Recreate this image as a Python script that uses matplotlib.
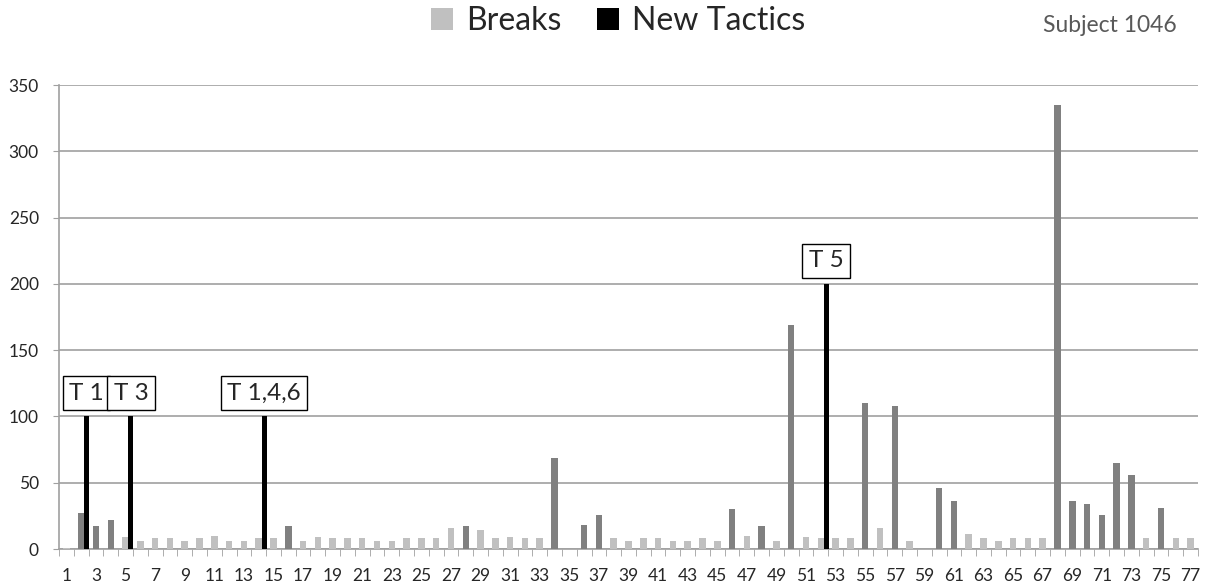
"""
Breaks and new tactics per session, subject 1046
"""
import matplotlib
matplotlib.use("Agg")
import matplotlib.pyplot as plt
from matplotlib.patches import Patch
import numpy as np

COLOR_LIGHT  = "#c0c0c0"
COLOR_DARK   = "#808080"
COLOR_TACTIC = "#000000"
COLOR_GRID   = "#a0a0a0"
COLOR_TEXT   = "#262626"

sessions = list(range(1, 78))
breaks = [1, 27, 17, 22, 9, 6, 8, 8, 6, 8,
          10, 6, 6, 8, 8, 17, 6, 9, 8, 8,
          8, 6, 6, 8, 8, 8, 16, 17, 14, 8,
          9, 8, 8, 69, 0, 18, 26, 8, 6, 8,
          8, 6, 6, 8, 6, 30, 10, 17, 6, 169,
          9, 8, 8, 8, 110, 16, 108, 6, 0, 46,
          36, 11, 8, 6, 8, 8, 8, 335, 36, 34,
          26, 65, 56, 8, 31, 8, 8]
# sessions whose break is drawn in the darker gray
long_breaks = [2, 3, 4, 16, 28, 34, 36, 37, 46, 48, 50, 55, 57,
               60, 61, 68, 69, 70, 71, 72, 73, 75]

tactic_sessions = [2, 5, 14, 52]
tactic_values   = [100, 100, 100, 200]
tactic_labels   = ["T 1", "T 3", "T 1,4,6", "T 5"]

plt.rcParams["font.family"] = ["Lato", "DejaVu Sans"]

W, H = 1207, 587
fig = plt.figure(figsize=(W / 100, H / 100), dpi=100)
ax = fig.add_axes([59 / W, 38 / H, 1139 / W, 464 / H])

x = np.array(sessions)
colors = [COLOR_DARK if s in long_breaks else COLOR_LIGHT for s in sessions]
ax.bar(x, breaks, width=0.44, color=colors, zorder=3)

tx = np.array(tactic_sessions) + 0.36
ax.bar(tx, tactic_values, width=0.34, color=COLOR_TACTIC, zorder=4)
for xi, v, lab in zip(tx, tactic_values, tactic_labels):
    ax.annotate(lab, xy=(xi, v), xytext=(0, 9), textcoords="offset points",
                ha="center", va="bottom", fontsize=17.5, color=COLOR_TEXT,
                bbox=dict(boxstyle="square,pad=0.27", fc="white", ec="black", lw=1),
                zorder=5)

ax.set_xlim(0.5, 77.5)
ax.set_ylim(0, 350)
ax.set_yticks(range(0, 351, 50))
ax.set_xticks(x[::2])
ax.set_xticks(np.arange(0.5, 78, 1), minor=True)

ax.yaxis.grid(True, color=COLOR_GRID, linewidth=1.2)
ax.set_axisbelow(True)
for sp in ["top", "right"]:
    ax.spines[sp].set_visible(False)
for sp in ["left", "bottom"]:
    ax.spines[sp].set_color(COLOR_GRID)
    ax.spines[sp].set_linewidth(1.2)

ax.tick_params(axis="y", length=4.5, color=COLOR_GRID, pad=10,
               labelsize=12.5, labelcolor=COLOR_TEXT)
ax.tick_params(axis="x", which="major", length=0, pad=14,
               labelsize=12.5, labelcolor=COLOR_TEXT)
ax.tick_params(axis="x", which="minor", length=5, color=COLOR_GRID)

handles = [Patch(fc=COLOR_LIGHT), Patch(fc=COLOR_TACTIC)]
fig.legend(handles, ["Breaks", "New Tactics"], loc="center",
           bbox_to_anchor=(618 / W, 1 - 21 / H), ncol=2, frameon=False,
           fontsize=23, handlelength=0.7, handleheight=0.7,
           handletextpad=0.4, columnspacing=1.1, labelcolor=COLOR_TEXT)
fig.text(1177 / W, 1 - 32 / H, "Subject 1046", ha="right", va="baseline",
         fontsize=16.5, color="#595959")

fig.savefig("out.png", dpi=100)
